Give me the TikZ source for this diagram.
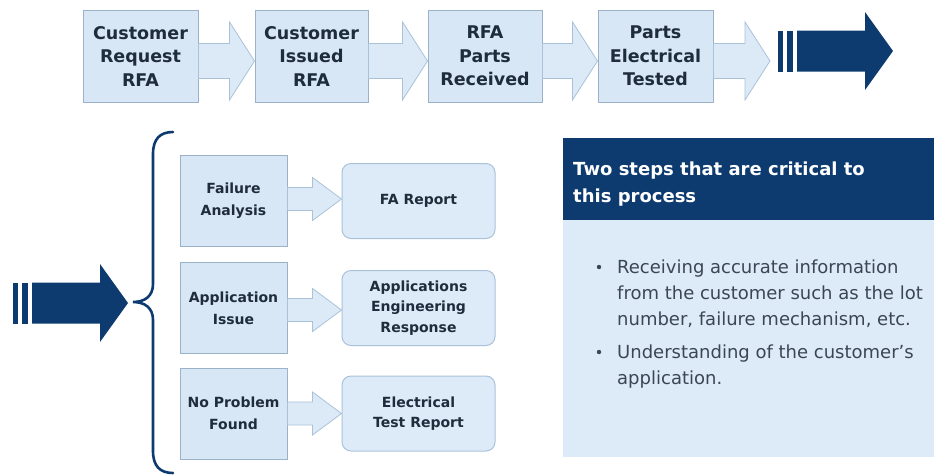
\documentclass[tikz,border=0pt]{standalone}
\usepackage{fontspec}
\setmainfont{DejaVu Sans}
\usetikzlibrary{calc}

\definecolor{navy}{HTML}{0D3B70}
\definecolor{boxfill}{HTML}{D8E7F5}
\definecolor{boxdraw}{HTML}{9CB2C9}
\definecolor{arrowfill}{HTML}{DCEAF7}
\definecolor{arrowdraw}{HTML}{A9C2DA}
\definecolor{roundfill}{HTML}{DDEBF8}
\definecolor{panelbody}{HTML}{DDEBF8}
\definecolor{boxtext}{HTML}{1E2C3C}
\definecolor{bullettext}{HTML}{3B4654}

% light block arrow from #1 to #2: shaft half-height #3, head half-height #4,
% head length #5, vertical offset #6
\newcommand\blockarrow[6]{%
  \draw[flowarrow]
    ($(#1)+(0,{#6-#3})$) -- ($(#2)+({-#5},{#6-#3})$) -- ($(#2)+({-#5},{#6-#4})$)
    -- ($(#2)+(0,#6)$) -- ($(#2)+({-#5},{#6+#4})$) -- ($(#2)+({-#5},{#6+#3})$)
    -- ($(#1)+(0,{#6+#3})$) -- cycle;}

% dark "continue" arrow with two bars, left edge at x=#1, centre line at y=#2
\newcommand\darkarrow[2]{%
  \begin{scope}[shift={(#1,#2)}]
    \fill[navy] (0,-20.5) rectangle (5,20.5);
    \fill[navy] (9,-20.5) rectangle (15,20.5);
    \fill[navy] (19,-20.5) -- (87,-20.5) -- (87,-39) -- (115,0) -- (87,39)
      -- (87,20.5) -- (19,20.5) -- cycle;
  \end{scope}}

\begin{document}
\begin{tikzpicture}[x=1pt,y=-1pt,
  topbox/.style={draw=boxdraw,line width=1pt,fill=boxfill,minimum height=92pt,
    inner sep=0pt,align=center,text=boxtext,
    font=\bfseries\fontsize{17.5}{23.5}\selectfont},
  stepbox/.style={draw=boxdraw,line width=1pt,fill=boxfill,minimum width=107pt,
    minimum height=91pt,inner sep=0pt,align=center,text=boxtext,
    font=\bfseries\fontsize{14}{22}\selectfont},
  resultbox/.style={draw=arrowdraw,line width=1pt,fill=roundfill,rounded corners=9pt,
    minimum width=153pt,minimum height=75pt,inner sep=0pt,align=center,text=boxtext,
    font=\bfseries\fontsize{14}{20.5}\selectfont},
  flowarrow/.style={draw=arrowdraw,line width=0.8pt,fill=arrowfill,line join=miter},
  bullet/.style={anchor=north west,inner sep=0pt,align=left,text=bullettext,
    font=\fontsize{18}{26}\selectfont}]

\useasboundingbox (0,0) rectangle (934,475);
\fill[white] (0,0) rectangle (934,475);

% top process row
\node[topbox,minimum width=115pt] (c1) at (140.5,56) {Customer\\Request\\RFA};
\node[topbox,minimum width=113pt] (c2) at (311.5,56) {Customer\\Issued\\RFA};
\node[topbox,minimum width=114pt] (c3) at (485,56) {RFA\\Parts\\Received};
\node[topbox,minimum width=115pt] (c4) at (655.5,56) {Parts\\Electrical\\Tested};
\coordinate (t4) at (770,56);

\blockarrow{c1.east}{c2.west}{17.5}{39}{25}{5}
\blockarrow{c2.east}{c3.west}{17.5}{39}{25}{5}
\blockarrow{c3.east}{c4.west}{17.5}{39}{25}{5}
\blockarrow{c4.east}{t4}{17.5}{39}{25}{5}

\darkarrow{778}{51}
\darkarrow{13}{303}

% brace
\draw[navy,line width=2.6pt,line cap=round]
  (173,132) .. controls (160,132) and (153,139) .. (153,154) -- (153,284)
  .. controls (153,296) and (145,302) .. (133,302)
  .. controls (145,302) and (153,308) .. (153,320) -- (153,451)
  .. controls (153,466) and (160,473) .. (173,473);

% outcome rows
\node[stepbox] (fa)  at (233.5,201) {Failure\\Analysis};
\node[stepbox] (ai)  at (233.5,308) {Application\\Issue};
\node[stepbox] (npf) at (233.5,413.5) {No Problem\\Found};

\node[resultbox] (far) at (418.5,201) {FA Report};
\node[resultbox] (aer) at (418.5,308) {Applications\\Engineering\\Response};
\node[resultbox] (etr) at (418.5,413.5) {Electrical\\Test Report};

\blockarrow{fa.east}{far.west}{11.5}{21.5}{29}{-2}
\blockarrow{ai.east}{aer.west}{11.5}{21.5}{29}{2}
\blockarrow{npf.east}{etr.west}{11.5}{21.5}{29}{0}

% critical steps panel
\fill[panelbody] (563,220) rectangle (934,457);
\fill[navy] (563,138) rectangle (934,220);
\node[anchor=north west,inner sep=0pt,align=left,text=white,
  font=\bfseries\fontsize{18}{27}\selectfont] (head) at (573,161.3)
  {Two steps that are critical to\\this process};

\fill[bullettext] (599,267) circle (2.2);
\node[bullet] (b1) at (617,259.8)
  {Receiving accurate information\\from the customer such as the lot\\number, failure mechanism, etc.};
\fill[bullettext] (599,352) circle (2.2);
\node[bullet] (b2) at (617,344.8) {Understanding of the customer’s\\application.};

\end{tikzpicture}
\end{document}
